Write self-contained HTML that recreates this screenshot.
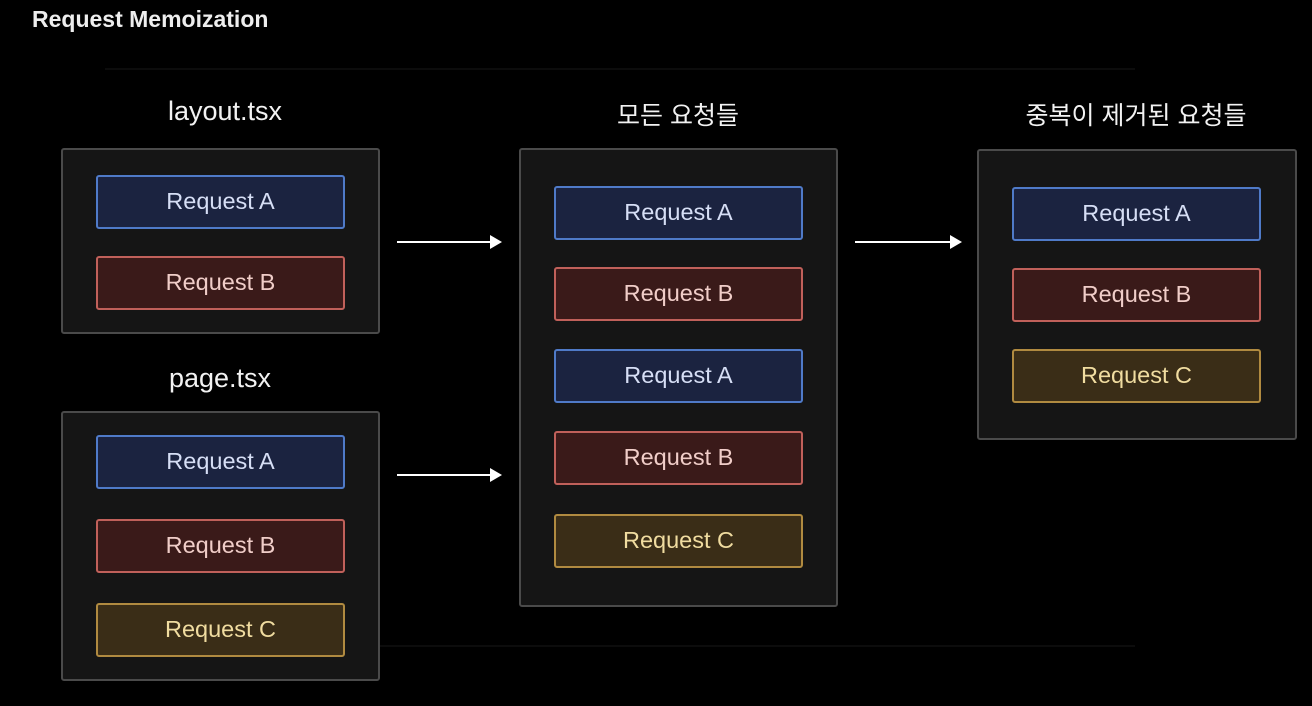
<!DOCTYPE html>
<html><head><meta charset="utf-8"><style>
body{margin:0;width:1312px;height:706px;background:#000;position:relative;overflow:hidden;font-family:"Liberation Sans","Noto Sans CJK KR",sans-serif}
.c{position:absolute;background:#151515;border:2px solid #4a4a4a;border-radius:3px;box-sizing:border-box}
.b{position:absolute;width:249px;height:54px;box-sizing:border-box;border:2px solid;border-radius:3px;display:flex;align-items:center;justify-content:center;font-size:23.5px;padding-bottom:2px}
.A{background:#1b2340;border-color:#4f7ac8;color:#d6def5}
.B{background:#3a1a19;border-color:#c0605a;color:#f0cdc8}
.C{background:#3a2d17;border-color:#b08a40;color:#f0dca0}
.l{position:absolute;color:#f2f2f2;font-size:27px;transform:translateX(-50%);white-space:nowrap}
.k{font-size:25px}
.ar{position:absolute;height:2px;background:#fff}
.ar:after{content:"";position:absolute;right:-2px;top:-6px;border-left:12px solid #fff;border-top:7px solid transparent;border-bottom:7px solid transparent}
.g{position:absolute;background:#0c0c0c}
</style></head><body>
<div class="g" style="left:105px;top:68px;width:1030px;height:2px"></div>
<div class="g" style="left:105px;top:645px;width:1030px;height:2px"></div>
<div style="position:absolute;left:32px;top:6px;color:#eee;font-weight:bold;font-size:23px">Request Memoization</div>
<div class="l" style="left:225px;top:96px">layout.tsx</div>
<div class="l" style="left:220px;top:363px">page.tsx</div>
<div class="l k" style="left:678px;top:96px">모든 요청들</div>
<div class="l k" style="left:1136px;top:96px">중복이 제거된 요청들</div>
<div class="c" style="left:61px;top:148px;width:319px;height:186px"></div>
<div class="c" style="left:61px;top:411px;width:319px;height:270px"></div>
<div class="c" style="left:519px;top:148px;width:319px;height:459px"></div>
<div class="c" style="left:977px;top:149px;width:320px;height:291px"></div>
<div class="b A" style="left:96px;top:175px">Request A</div>
<div class="b B" style="left:96px;top:256px">Request B</div>
<div class="b A" style="left:96px;top:435px">Request A</div>
<div class="b B" style="left:96px;top:519px">Request B</div>
<div class="b C" style="left:96px;top:603px">Request C</div>
<div class="b A" style="left:554px;top:186px">Request A</div>
<div class="b B" style="left:554px;top:267px">Request B</div>
<div class="b A" style="left:554px;top:349px">Request A</div>
<div class="b B" style="left:554px;top:431px">Request B</div>
<div class="b C" style="left:554px;top:514px">Request C</div>
<div class="b A" style="left:1012px;top:187px">Request A</div>
<div class="b B" style="left:1012px;top:268px">Request B</div>
<div class="b C" style="left:1012px;top:349px">Request C</div>
<div class="ar" style="left:397px;top:241px;width:103px"></div>
<div class="ar" style="left:397px;top:474px;width:103px"></div>
<div class="ar" style="left:855px;top:241px;width:105px"></div>
</body></html>
